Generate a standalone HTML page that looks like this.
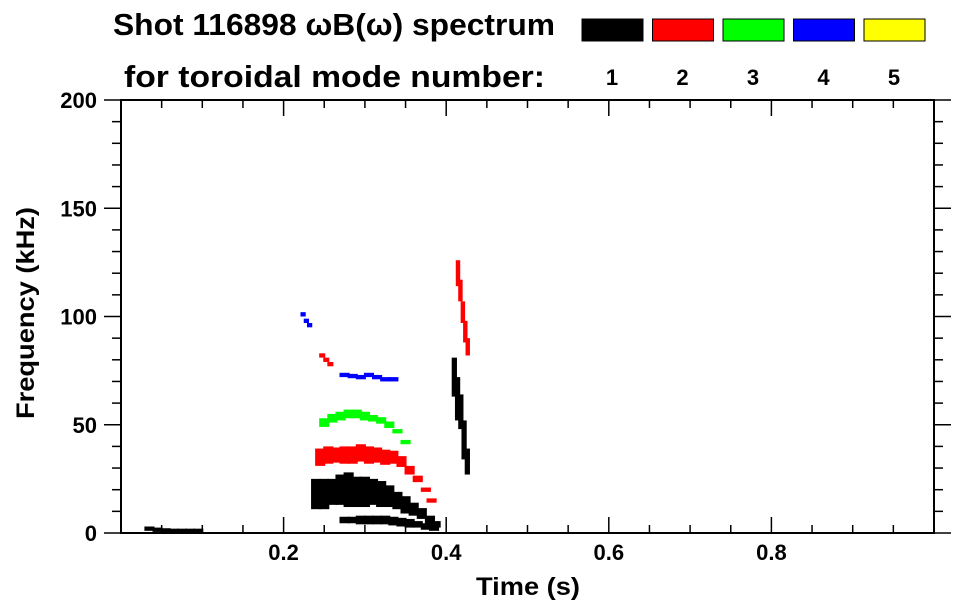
<!DOCTYPE html>
<html><head><meta charset="utf-8"><style>
html,body{margin:0;padding:0;background:#fff;}
svg{display:block;font-family:"Liberation Sans",Arial,sans-serif;font-weight:bold;}
</style></head><body>
<svg id="chart" width="963" height="615" viewBox="0 0 963 615" xmlns="http://www.w3.org/2000/svg">
<text x="113" y="35" font-size="31" textLength="442" lengthAdjust="spacingAndGlyphs">Shot 116898 ωB(ω) spectrum</text>
<text x="124" y="87" font-size="31" textLength="421" lengthAdjust="spacingAndGlyphs">for toroidal mode number:</text>
<g id="legend"></g>
<g id="axes"></g>
<g id="marks"></g>
<text x="528" y="595" font-size="25" text-anchor="middle" textLength="104" lengthAdjust="spacingAndGlyphs">Time (s)</text>
<text transform="translate(34,313) rotate(-90)" font-size="25" text-anchor="middle" textLength="212" lengthAdjust="spacingAndGlyphs">Frequency (kHz)</text>
</svg>
<script>
const modeLabels = ["1","2","3","4","5"];
const modeColors = ["#000000","#ff0000","#00ff00","#0000ff","#ffff00"];
const xTicks = [0.2,0.4,0.6,0.8];
const yTicks = [0,50,100,150,200];
// bands: time, centre frequency (kHz), half-width (kHz)
const m1MainT = [0.235,0.245,0.255,0.265,0.275,0.285,0.295,0.305,0.315,0.325,0.335,0.345,0.355,0.365,0.375,0.382];
const m1MainF = [18,18,19,20,20,19,19,19,18,17,15,13,11,9,6,4];
const m1MainW = [7,7,6,7,8,7,7,6,6,5,4,4,3,2.5,2,1.5];
const m1LowT = [0.27,0.28,0.29,0.30,0.31,0.32,0.33,0.34,0.35,0.36,0.37,0.38];
const m1LowF = [6,6,6,6,6,6,5.5,5,4.5,4,3,2];
const m1LowW = [1.5,1.5,2,2,2,2,2,2,2,1.5,1.5,1];
const m1EarlyT = [0.03,0.04,0.05,0.06,0.07,0.08,0.09];
const m1EarlyF = [2,1.5,1.2,1,1,1,1];
const m1LateT = [0.408,0.412,0.416,0.42,0.424];
const m1LateF = [72,62,56,43,33];
const m1LateW = [9,10,8,9,6];
const m2MainT = [0.24,0.25,0.26,0.27,0.28,0.29,0.30,0.31,0.32,0.33,0.34,0.35,0.36,0.37,0.377];
const m2MainF = [35,36,36,36,36,37,36,36,35,35,33,29,25,20,15];
const m2MainW = [4,4,3.5,4,4,4,4,3.5,3.5,3,2.5,2,1.5,1,1];
const m2LateT = [0.413,0.416,0.419,0.422,0.425];
const m2LateF = [120,112,102,93,86];
const m2LateW = [6,5,5,5,4];
const m2HighT = [0.245,0.25,0.255];
const m2HighF = [82,80,78];
const m3T = [0.245,0.255,0.265,0.275,0.285,0.295,0.305,0.315,0.325,0.335,0.345];
const m3F = [51,53,54,55,55,54,53,52,50,47,42];
const m3W = [2,2,2,2,2,2,1.5,1.5,1.5,1,1];
const m4T = [0.27,0.28,0.29,0.30,0.31,0.32,0.33];
const m4F = [73,72.5,72,73,72,71,71];
const m4HighT = [0.222,0.226,0.23];
const m4HighF = [101,98,96];

const NS="http://www.w3.org/2000/svg";
const X0=121,X1=934,Y0=533,Y1=100;
const xs=t=>X0+t/1.0*(X1-X0);
const ys=f=>Y0-f/200*(Y0-Y1);
function mk(tag,attrs,parent){const e=document.createElementNS(NS,tag);for(const k in attrs)e.setAttribute(k,attrs[k]);parent.appendChild(e);return e;}
const axes=document.getElementById('axes');
const marks=document.getElementById('marks');
const legend=document.getElementById('legend');

modeLabels.forEach((lab,i)=>{
  const bx=582+i*70.5;
  const r=mk('rect',{x:bx,y:19,width:61,height:22,fill:modeColors[i],stroke:'#000','stroke-width':1},legend);
  
  
  const t=mk('text',{x:bx+30,y:85,'font-size':22,'text-anchor':'middle'},legend);
  t.textContent=lab;
  
  
});

const frame=mk('rect',{x:X0,y:Y1,width:X1-X0,height:Y0-Y1,fill:'none',stroke:'#000','stroke-width':2},axes);


for(let v=0;v<=1.0001;v+=0.05){
  const x=xs(v);const major=Math.abs(v/0.2-Math.round(v/0.2))<1e-6;
  const L=major?16:8;
  mk('line',{x1:x,y1:Y0,x2:x,y2:Y0-L,stroke:'#000','stroke-width':1.5},axes);
  mk('line',{x1:x,y1:Y1,x2:x,y2:Y1+L,stroke:'#000','stroke-width':1.5},axes);
}
for(let f=0;f<=200;f+=10){
  const y=ys(f);const L=f%50===0?17:9;
  mk('line',{x1:X0,y1:y,x2:X0-L,y2:y,stroke:'#000','stroke-width':1.5},axes);
  mk('line',{x1:X1,y1:y,x2:X1+L,y2:y,stroke:'#000','stroke-width':1.5},axes);
}
xTicks.forEach(v=>{const t=mk('text',{x:xs(v),y:560,'font-size':22,'text-anchor':'middle'},axes);t.textContent=v.toFixed(1);
  
  });
yTicks.forEach(v=>{const t=mk('text',{x:97,y:ys(v)+8,'font-size':22,'text-anchor':'end'},axes);t.textContent=v;
  
  });

function band(T,F,W,color,name,dt){
  T.forEach((t,i)=>{
    const w=W?W[i]:1;
    const x=xs(t)-1,xe=xs(t+(dt||0.01))+1;
    const r=mk('rect',{x:x,y:ys(F[i]+w),width:Math.max(2,xe-x),height:Math.max(2,ys(F[i]-w)-ys(F[i]+w)),fill:color},marks);
    
    
  });
}
band(m1EarlyT,m1EarlyF,null,'#000','mode1-early',0.01);
band(m1MainT,m1MainF,m1MainW,'#000','mode1-main-band',0.01);
band(m1LowT,m1LowF,m1LowW,'#000','mode1-low-band',0.01);
band(m1LateT,m1LateF,m1LateW,'#000','mode1-late-band',0.004);
band(m2MainT,m2MainF,m2MainW,'#ff0000','mode2-main-band',0.01);
band(m2LateT,m2LateF,m2LateW,'#ff0000','mode2-late-band',0.003);
band(m2HighT,m2HighF,null,'#ff0000','mode2-high-band',0.005);
band(m3T,m3F,m3W,'#00ff00','mode3-band',0.01);
band(m4T,m4F,null,'#0000ff','mode4-band',0.01);
band(m4HighT,m4HighF,null,'#0000ff','mode4-high-band',0.004);
</script>
</body></html>
